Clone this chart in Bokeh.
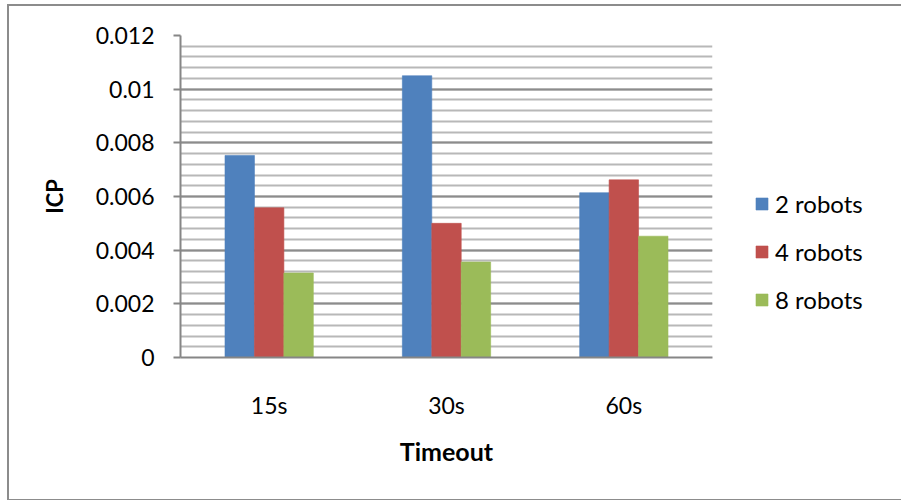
from bokeh.plotting import figure
from bokeh.models import (ColumnDataSource, FactorRange, Range1d, FixedTicker,
                          CustomJSTickFormatter, Legend, LegendItem)
from bokeh.transform import dodge
from bokeh.embed import file_html
from bokeh.resources import INLINE

timeouts = ["15s", "30s", "60s"]
robots_2 = [0.00753, 0.0105, 0.00614]
robots_4 = [0.00558, 0.00500, 0.00662]
robots_8 = [0.00315, 0.00356, 0.00452]
series_names = ["2 robots", "4 robots", "8 robots"]
colors = ["#4F81BD", "#C0504D", "#9BBB59"]
y_ticks = [0, 0.002, 0.004, 0.006, 0.008, 0.010, 0.012]

src = ColumnDataSource(dict(t=timeouts, r2=robots_2, r4=robots_4, r8=robots_8))

FONT = "Lato"

p = figure(x_range=FactorRange(factors=timeouts), y_range=Range1d(0, 0.012),
           frame_width=532, frame_height=322, output_backend="svg", toolbar_location=None,
           min_border_left=171, min_border_top=29, min_border_right=181,
           min_border_bottom=142)
p.styles = {"margin-left": "9px", "margin-top": "6px",
            "outline": "2px solid #8c8c8c"}
p.outline_line_color = None
p.border_fill_color = "white"

bw = 0.166
rs = []
for off, col, c in zip([-bw, 0, bw], ["r2", "r4", "r8"], colors):
    r = p.vbar(x=dodge("t", off, range=p.x_range), top=col, width=bw, source=src,
               fill_color=c, line_color=c, line_alpha=0.6)
    rs.append(r)

# grid
p.xgrid.grid_line_color = None
p.ygrid.ticker = FixedTicker(ticks=y_ticks, minor_ticks=[i * 0.0004 for i in range(31)])
p.ygrid.grid_line_color = "#8c8c8c"
p.ygrid.grid_line_width = 2
p.ygrid.minor_grid_line_color = "#b8b8b8"
p.ygrid.minor_grid_line_width = 2

# y axis
ya = p.yaxis[0]
ya.ticker = FixedTicker(ticks=y_ticks, minor_ticks=[])
ya.formatter = CustomJSTickFormatter(code="""
    let s = tick.toFixed(3);
    s = s.replace(/0+$/, '').replace(/\\.$/, '');
    return s;
""")
ya.axis_line_color = "#868686"
ya.axis_line_width = 2
ya.major_tick_line_color = "#868686"
ya.major_tick_line_width = 2
ya.major_tick_out = 7
ya.major_tick_in = 0
ya.minor_tick_out = 0
ya.minor_tick_in = 0
ya.major_label_text_font = FONT
ya.major_label_text_font_size = "23px"
ya.major_label_text_color = "black"
ya.major_label_standoff = 19
ya.axis_label = "ICP"
ya.axis_label_text_font = FONT
ya.axis_label_text_font_size = "22px"
ya.axis_label_text_font_style = "bold"
ya.axis_label_text_color = "black"
ya.axis_label_standoff = 25

# x axis
xa = p.xaxis[0]
xa.axis_line_color = "#868686"
xa.axis_line_width = 2
xa.major_tick_out = 0
xa.major_tick_in = 0
xa.minor_tick_out = 0
xa.major_label_text_font = FONT
xa.major_label_text_font_size = "23px"
xa.major_label_text_color = "black"
xa.major_label_standoff = 33
xa.axis_label = "Timeout"
xa.axis_label_text_font = FONT
xa.axis_label_text_font_size = "25px"
xa.axis_label_text_font_style = "bold"
xa.axis_label_text_color = "black"
xa.axis_label_standoff = 14

legend = Legend(items=[LegendItem(label=n, renderers=[r]) for n, r in zip(series_names, rs)],
                location=(42, 43), orientation="vertical",
                label_text_font=FONT, label_text_font_size="24px",
                label_text_color="black", glyph_width=15, glyph_height=15,
                label_height=24, spacing=19, padding=0, margin=0,
                label_standoff=6, background_fill_alpha=0, border_line_color=None)
p.add_layout(legend, "right")

open("out.html", "w").write(file_html(p, INLINE))
